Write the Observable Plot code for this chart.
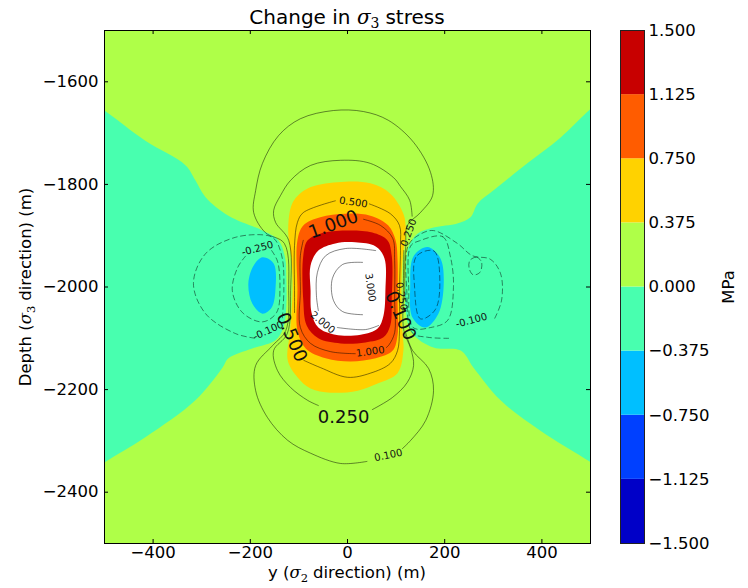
<!DOCTYPE html>
<html><head><meta charset="utf-8">
<script src="https://cdn.jsdelivr.net/npm/d3@7"></script>
<script src="https://cdn.jsdelivr.net/npm/@observablehq/plot@0.6"></script>
<style>body{margin:0;background:white} #wrap{display:flex;width:748px;height:588px}</style>
</head><body><div id="wrap"></div>
<script>
// ---- colour levels (MPa) ----
const levels = [-1.5, -1.125, -0.75, -0.375, 0, 0.375, 0.75, 1.125, 1.5];
const bandColors = ["#0000c8", "#0040ff", "#00bfff", "#48ffaf", "#afff48", "#ffd200", "#ff5c00", "#c80000"];
const xTicks = [-400, -200, 0, 200, 400];
const yTicks = [-2400, -2200, -2000, -1800, -1600];

// ---- filled regions, boundary vertices (x m, depth m) ----
const cyanLeft = [[-540,-1632],[-500,-1656],[-416,-1715],[-333,-1763],[-313,-1792],[-292,-1825],[-245,-1861],[-175,-1890],[-142,-1909],[-128,-1945],[-126,-1975],[-126,-2040],[-132,-2079],[-148,-2104],[-196,-2120],[-245,-2139],[-257,-2157],[-313,-2221],[-416,-2293],[-500,-2342],[-540,-2368],[-560,-2000]];
const cyanRight = [[540,-1625],[504,-1650],[438,-1709],[370,-1759],[300,-1812],[268,-1837],[253,-1864],[226,-1876],[177,-1884],[144,-1896],[125,-1923],[120,-1974],[120,-2050],[134,-2091],[177,-2118],[233,-2124],[259,-2157],[315,-2221],[397,-2280],[504,-2344],[540,-2370],[560,-2000]];
const blueLeft = [[-175,-1942],[-152,-1954],[-148,-2001],[-156,-2040],[-175,-2052],[-196,-2032],[-204,-1993],[-193,-1958]];
const blueRight = [[165,-1922],[191,-1944],[198,-1993],[187,-2052],[160,-2079],[134,-2060],[129,-2000],[136,-1940]];
const yellowBlob = [[-112,-1834],[-82,-1808],[-21,-1796],[47,-1798],[88,-1818],[115,-1857],[120,-1890],[113,-1950],[111,-2007],[113,-2085],[115,-2124],[103,-2168],[62,-2188],[21,-2202],[-35,-2206],[-76,-2198],[-103,-2176],[-123,-2143],[-118,-2085],[-113,-2007],[-115,-1950],[-122,-1885]];
const orangeBlob = [[-103,-1909],[-91,-1880],[-56,-1864],[-4,-1857],[47,-1861],[84,-1880],[99,-1909],[103,-1948],[103,-2026],[103,-2094],[93,-2124],[58,-2139],[6,-2145],[-45,-2139],[-86,-2120],[-103,-2085],[-103,-2007]];
const redBlob = [[-91,-1939],[-82,-1909],[-56,-1896],[-4,-1890],[51,-1894],[82,-1909],[91,-1939],[91,-2026],[88,-2075],[74,-2098],[37,-2108],[-14,-2110],[-60,-2100],[-84,-2075],[-91,-2026]];
const whiteCore = [[-76,-1958],[-60,-1929],[-25,-1915],[16,-1913],[58,-1921],[76,-1944],[78,-2007],[74,-2056],[62,-2081],[27,-2093],[-25,-2093],[-60,-2079],[-74,-2050],[-76,-2007]];

// ---- contour lines ----
const c010a = [[118,-2025],[118,-1960],[120,-1919],[123,-1880],[150,-1855],[175,-1822],[171,-1777],[136,-1718],[84,-1675],[33,-1658],[-29,-1656],[-97,-1672],[-142,-1705],[-175,-1759],[-189,-1812],[-193,-1855],[-169,-1894],[-130,-1915],[-121,-2007],[-127,-2085],[-154,-2114],[-189,-2153],[-189,-2202],[-165,-2254],[-123,-2299],[-76,-2324],[-14,-2344],[40,-2340]];
const c010b = [[113,-2315],[130,-2299],[161,-2260],[177,-2202],[167,-2159],[134,-2124],[120,-2090]];
const c025a = [[51,-2239],[93,-2215],[123,-2186],[136,-2153],[130,-2120],[116,-2085],[115,-2007],[116,-1929]];
const c025b = [[133,-1862],[128,-1831],[109,-1804],[95,-1787],[47,-1759],[-14,-1753],[-76,-1763],[-117,-1792],[-138,-1822],[-152,-1851],[-148,-1874],[-121,-1909],[-117,-2007],[-124,-2091],[-152,-2124],[-144,-2163],[-117,-2196],[-82,-2221],[-60,-2231]];
const c050a = [[45,-1838],[88,-1857],[107,-1880],[109,-1919],[107,-2007],[107,-2085],[103,-2124],[88,-2149],[47,-2168],[0,-2176],[-56,-2157],[-90,-2143]];
const c050b = [[-109,-2050],[-109,-2007],[-109,-1919],[-103,-1874],[-91,-1855],[-25,-1832]];
const c100a = [[33,-1868],[68,-1880],[93,-1905],[97,-1948],[97,-2026],[97,-2089],[86,-2112],[80,-2118]];
const c100b = [[16,-2130],[-35,-2126],[-76,-2110],[-97,-2079],[-97,-2007],[-97,-1939],[-91,-1909]];
const c200a = [[58,-1929],[-4,-1925],[-45,-1939],[-62,-1972],[-64,-2016],[-60,-2046]];
const c200b = [[-21,-2079],[37,-2083],[64,-2075]];
const c300 = [[31,-1952],[-10,-1956],[-31,-1983],[-29,-2026],[-10,-2048],[31,-2054]];
const cm010L = [[-134,-2060],[-131,-2007],[-134,-1945],[-148,-1909],[-163,-1900],[-230,-1903],[-292,-1935],[-317,-1993],[-292,-2052],[-230,-2091],[-189,-2100]];
const cm025L = [[-156,-1929],[-144,-1950],[-139,-2001],[-146,-2050],[-175,-2068],[-216,-2050],[-237,-2007],[-226,-1962],[-210,-1940]];
const cm010R = [[208,-2100],[165,-2098],[133,-2089],[122,-2007],[125,-1919],[150,-1897],[177,-1890],[226,-1915],[257,-1939],[294,-1946],[315,-1974],[317,-2026],[303,-2061]];
const cm025R = [[148,-1910],[196,-1902],[212,-1942],[218,-2001],[206,-2065],[171,-2079],[135,-2079],[126,-2001],[130,-1920]];
const cm050R = [[142,-1940],[178,-1930],[190,-1990],[180,-2045],[150,-2062],[138,-2000]];
const cmLoopR = [[252,-1948],[266,-1942],[276,-1952],[272,-1972],[258,-1976],[250,-1962]];

// ---- contour labels ----
const bigLabels = [
  {t: "1.000", x: -29, y: -1878, r: -20},
  {t: "0.100", x: 109, y: -2056, r: 66},
  {t: "0.500", x: -115, y: -2098, r: 67},
  {t: "0.250", x: -8, y: -2254, r: 0}
];
const smallLabels = [
  {t: "0.500", x: 12, y: -1835, r: 8},
  {t: "0.250", x: 126, y: -1894, r: -70},
  {t: "3.000", x: 47, y: -2001, r: 82},
  {t: "2.000", x: -51, y: -2069, r: 40},
  {t: "1.000", x: 47, y: -2126, r: -8},
  {t: "0.250", x: 111, y: -2018, r: 80},
  {t: "0.100", x: 84, y: -2328, r: -12},
  {t: "-0.250", x: -185, y: -1925, r: -15},
  {t: "-0.100", x: -163, y: -2085, r: -25},
  {t: "-0.100", x: 255, y: -2065, r: -15}
];

// ---- build ----
const FW = 486, FH = 513;
const px = d => d[0], py = d => d[1];
const regions = [
  {pts: cyanLeft, fill: bandColors[3]}, {pts: cyanRight, fill: bandColors[3]},
  {pts: blueLeft, fill: bandColors[2]}, {pts: blueRight, fill: bandColors[2]},
  {pts: yellowBlob, fill: bandColors[5]}, {pts: orangeBlob, fill: bandColors[6]},
  {pts: redBlob, fill: bandColors[7]}, {pts: whiteCore, fill: "white"}
];
const lineStyle = {x: px, y: py, stroke: "black", strokeOpacity: 0.6, strokeWidth: 0.8};
const solidOpen = [c010a, c010b, c025a, c025b, c050a, c050b, c100a, c100b, c200a, c200b, c300];
const dashedOpen = [cm010L, cm025L, cm010R];
const dashedClosed = [cm025R, cm050R, cmLoopR];
const fmtInt = d3.format("d");

const main = Plot.plot({
  width: 600, height: 588,
  marginLeft: 104, marginRight: 10, marginTop: 30, marginBottom: 45,
  x: {domain: [-500, 500]},
  y: {domain: [-2500, -1500]},
  style: {fontFamily: "DejaVu Sans, sans-serif", fontSize: "16.5px", background: "white", color: "black"},
  marks: [
    Plot.frame({fill: bandColors[4]}),
    ...regions.map(r => Plot.line(r.pts, {x: px, y: py, fill: r.fill, stroke: "none", curve: "catmull-rom-closed", clip: true})),
    ...solidOpen.map(p => Plot.line(p, {...lineStyle, curve: "catmull-rom"})),
    ...dashedOpen.map(p => Plot.line(p, {...lineStyle, curve: "catmull-rom", strokeDasharray: "5,3.5"})),
    ...dashedClosed.map(p => Plot.line(p, {...lineStyle, curve: "catmull-rom-closed", strokeDasharray: "5,3.5"})),
    Plot.text(smallLabels, {x: "x", y: "y", text: "t", rotate: "r", fontSize: 10, fill: "#111"}),
    Plot.text(bigLabels, {x: "x", y: "y", text: "t", rotate: "r", fontSize: 18, fill: "#111"}),
    Plot.tickX(xTicks, {x: d => d, insetTop: FH - 4, stroke: "black"}),
    Plot.tickX(xTicks, {x: d => d, insetBottom: FH - 4, stroke: "black"}),
    Plot.tickY(yTicks, {y: d => d, insetRight: FW - 4, stroke: "black"}),
    Plot.tickY(yTicks, {y: d => d, insetLeft: FW - 4, stroke: "black"}),
    Plot.frame({stroke: "black", strokeWidth: 1}),
    Plot.axisX({ticks: xTicks, tickFormat: fmtInt, tickSize: 0, tickPadding: 3, fontSize: 16.5, label: null}),
    Plot.axisY({ticks: yTicks, tickFormat: fmtInt, tickSize: 0, tickPadding: 6, fontSize: 16.5, label: null})
  ]
});

const bands = bandColors.map((c, i) => ({lo: levels[i], hi: levels[i + 1], color: c}));
const cbar = Plot.plot({
  width: 148, height: 588,
  marginLeft: 20, marginRight: 104, marginTop: 30, marginBottom: 45,
  y: {domain: [-1.5, 1.5]},
  color: {type: "identity"},
  style: {fontFamily: "DejaVu Sans, sans-serif", fontSize: "16.5px", background: "white", color: "black"},
  marks: [
    Plot.rect(bands, {y1: "lo", y2: "hi", fill: "color"}),
    Plot.frame({stroke: "#222", strokeWidth: 1}),
    Plot.axisY({anchor: "right", ticks: levels, tickFormat: d3.format(".3f"), tickSize: 0, tickPadding: 4, fontSize: 16.5, label: null})
  ]
});

function mathLabel(svg, x, y, parts, size, rotate) {
  const t = d3.select(svg).append("text")
    .attr("transform", `translate(${x},${y}) rotate(${rotate || 0})`)
    .attr("text-anchor", "middle")
    .attr("font-family", "DejaVu Sans, sans-serif")
    .attr("font-size", size).attr("fill", "black");
  for (const [s, kind] of parts) {
    const ts = t.append("tspan").text(s);
    if (kind === "i") ts.attr("font-family", "DejaVu Serif, serif").attr("font-style", "italic");
    if (kind === "sub") ts.attr("font-family", "DejaVu Serif, serif").attr("font-size", size * 0.7).attr("dy", size * 0.22);
    if (kind === "after") ts.attr("dy", -size * 0.22).attr("dx", size * 0.3);
  }
}
mathLabel(main, 347, 24, [["Change in "], ["σ", "i"], ["3", "sub"], ["stress", "after"]], 20, 0);
mathLabel(main, 347, 578, [["y ("], ["σ", "i"], ["2", "sub"], ["direction) (m)", "after"]], 16.5, 0);
mathLabel(main, 31, 287, [["Depth ("], ["σ", "i"], ["3", "sub"], ["direction) (m)", "after"]], 16.5, -90);
mathLabel(cbar, 134, 287, [["MPa"]], 16.5, -90);

const wrap = document.getElementById("wrap");
wrap.appendChild(main);
wrap.appendChild(cbar);
</script></body></html>
